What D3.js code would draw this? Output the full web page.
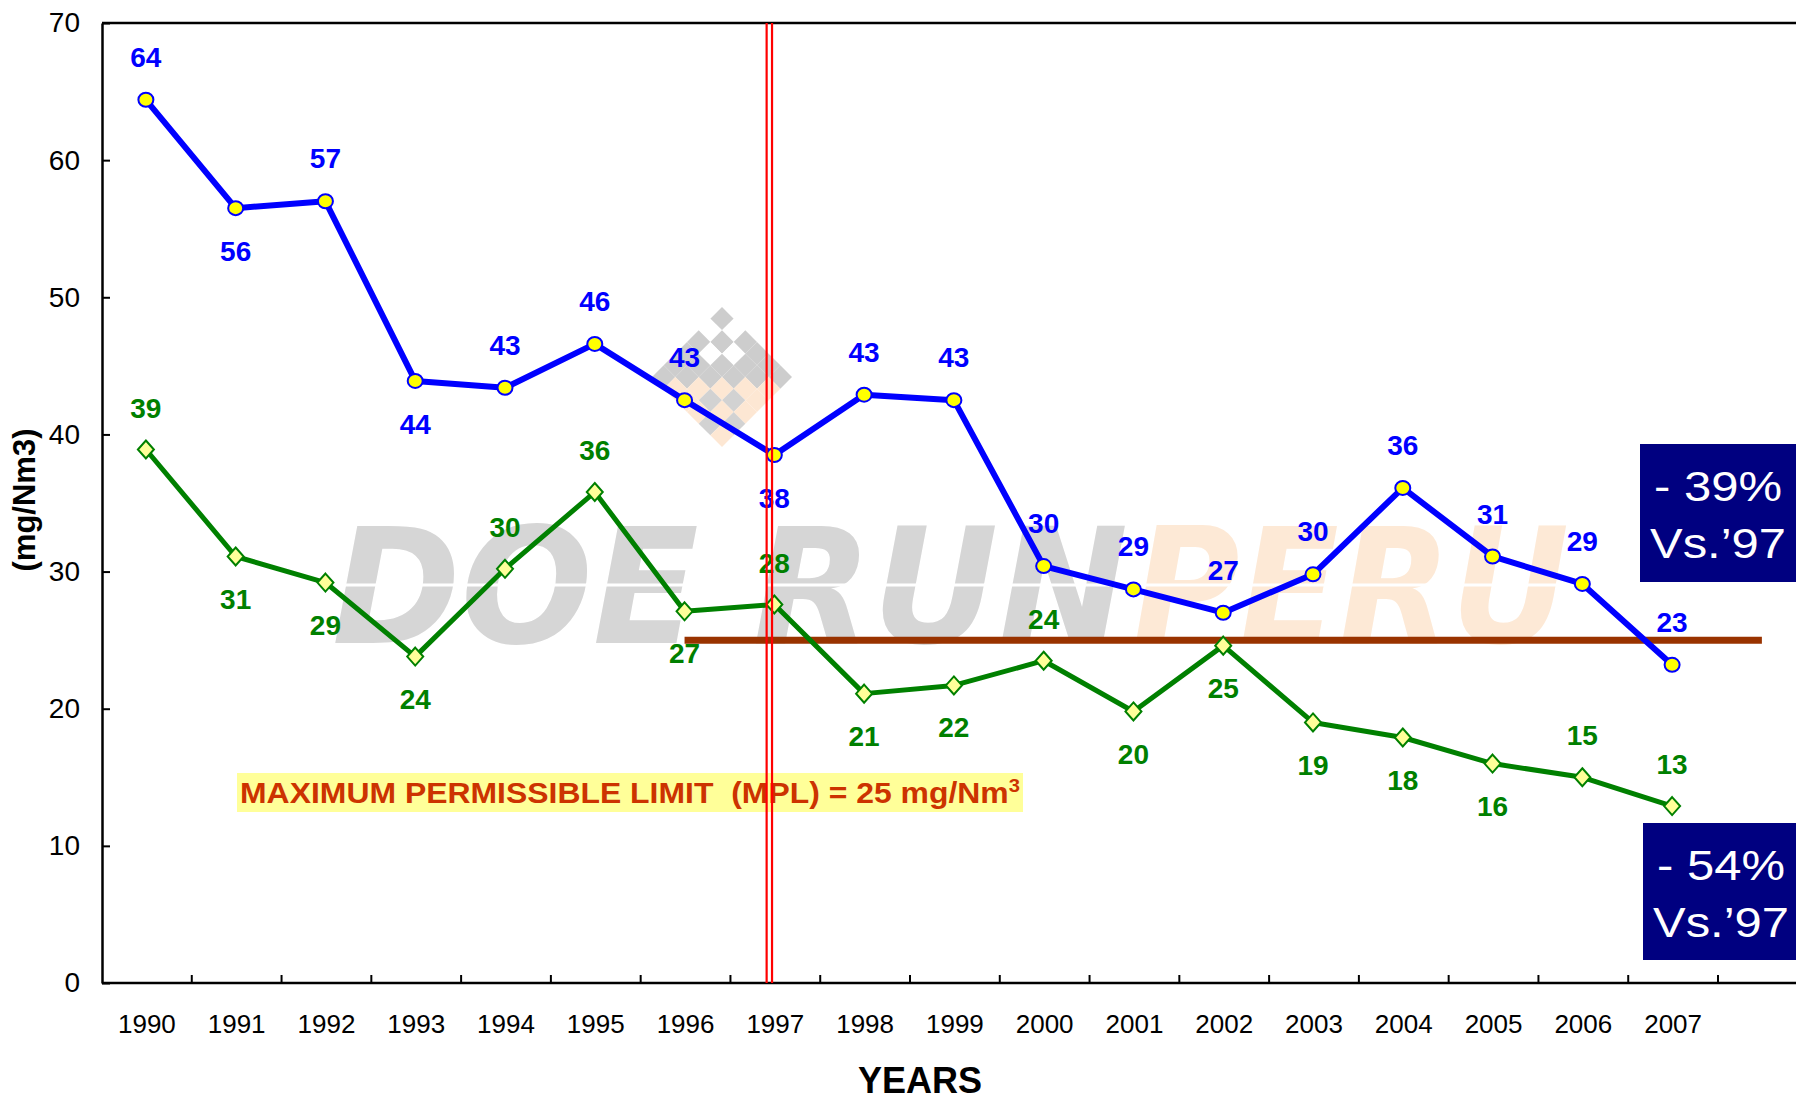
<!DOCTYPE html>
<html>
<head>
<meta charset="utf-8">
<script src="https://cdn.jsdelivr.net/npm/d3@7"></script>
<style>
  body { margin: 0; background: #fff; }
  svg { display: block; font-family: "Liberation Sans", Arial, sans-serif; }
</style>
</head>
<body>
<svg class="chart"></svg>
<script>
// chart data
var years = ["1990", "1991", "1992", "1993", "1994", "1995", "1996", "1997", "1998",
             "1999", "2000", "2001", "2002", "2003", "2004", "2005", "2006", "2007"];

// blue series (circles)
var blueValues = [64.4, 56.5, 57.0, 43.9, 43.4, 46.6, 42.5, 38.5, 42.9,
                  42.5, 30.4, 28.7, 27.0, 29.8, 36.1, 31.1, 29.1, 23.2];
var blueLabels = [64, 56, 57, 44, 43, 46, 43, 38, 43, 43, 30, 29, 27, 30, 36, 31, 29, 23];
// -1 = label above the point, 1 = below
var blueSide = [-1, 1, -1, 1, -1, -1, -1, 1, -1, -1, -1, -1, -1, -1, -1, -1, -1, -1];

// green series (diamonds)
var greenValues = [38.9, 31.1, 29.2, 23.8, 30.2, 35.8, 27.1, 27.6, 21.1,
                   21.7, 23.5, 19.8, 24.6, 19.0, 17.9, 16.0, 15.0, 12.9];
var greenLabels = [39, 31, 29, 24, 30, 36, 27, 28, 21, 22, 24, 20, 25, 19, 18, 16, 15, 13];
var greenSide = [-1, 1, 1, 1, -1, -1, 1, -1, 1, 1, -1, 1, 1, 1, 1, 1, -1, -1];

var yTicks = [0, 10, 20, 30, 40, 50, 60, 70];
var mplValue = 25;
var mplFrom = "1996";
var refYear = "1997";

//define SVG
var width = 1796, height = 1103;
var margin = { top: 23, right: 0, bottom: 120, left: 102 };
var svg = d3.select(".chart").attr("width", width).attr("height", height);
svg.append("rect").attr("width", width).attr("height", height).attr("fill", "#fff");

var x = d3.scaleBand()
    .domain(years)
    .range([margin.left, 1718]);

var y = d3.scaleLinear()
    .domain([0, 70])
    .range([height - margin.bottom, margin.top]);

function px(d) { return x(d) + x.bandwidth() / 2 - 1; }

// watermark (logo + text)
var wm = svg.append("g").attr("class", "watermark");
var logo = wm.append("g").attr("transform", "translate(722,307) rotate(45)");
var cell = 16.5;
var holes = ["0,1", "1,0", "1,2", "2,1"];
var greyInPeach = ["4,3", "3,4", "5,4", "4,5"];
for (var i = 0; i < 6; i++) {
    for (var j = 0; j < 6; j++) {
        var key = i + "," + j;
        var col = (i + j <= 5) ? "#cdcdcd" : "#fde7d3";
        if (holes.indexOf(key) >= 0) col = "#fff";
        if (greyInPeach.indexOf(key) >= 0) col = "#d2d2d2";
        logo.append("rect")
            .attr("x", j * cell).attr("y", i * cell)
            .attr("width", cell).attr("height", cell)
            .attr("fill", col);
    }
}
wm.append("text")
    .attr("x", 332).attr("y", 643)
    .attr("font-size", 160).attr("font-weight", "bold").attr("font-style", "italic")
    .attr("font-family", "DejaVu Sans, Liberation Sans, sans-serif")
    .attr("textLength", 796).attr("lengthAdjust", "spacingAndGlyphs")
    .attr("fill", "#d6d6d6")
    .text("DOE RUN");
wm.append("text")
    .attr("x", 1133).attr("y", 643)
    .attr("font-size", 160).attr("font-weight", "bold").attr("font-style", "italic")
    .attr("font-family", "DejaVu Sans, Liberation Sans, sans-serif")
    .attr("textLength", 436).attr("lengthAdjust", "spacingAndGlyphs")
    .attr("fill", "#fde9d6")
    .text("PERU");
wm.append("line")
    .attr("x1", 300).attr("x2", 1600).attr("y1", 585).attr("y2", 585)
    .attr("stroke", "#fff").attr("stroke-width", 3);

// frame: top border
svg.append("line")
    .attr("x1", margin.left).attr("x2", width)
    .attr("y1", y(70)).attr("y2", y(70))
    .attr("stroke", "#000").attr("stroke-width", 2.5);

// y axis
var yAxis = d3.axisLeft(y)
    .tickValues(yTicks)
    .tickSizeInner(-8)
    .tickSizeOuter(0)
    .tickPadding(22);
var gy = svg.append("g")
    .attr("transform", "translate(" + margin.left + ",0)")
    .call(yAxis);
gy.select(".domain").attr("stroke-width", 2.5);
gy.selectAll(".tick line").attr("stroke-width", 2);
gy.selectAll(".tick text")
    .attr("font-size", 28)
    .attr("font-family", "Liberation Sans, Arial, sans-serif")
    .attr("fill", "#000");

// x axis: labels at band centres, ticks on band edges
var xAxis = d3.axisBottom(x).tickSize(0).tickPadding(32);
var gx = svg.append("g")
    .attr("transform", "translate(0," + y(0) + ")")
    .call(xAxis);
gx.select(".domain").remove();
gx.selectAll(".tick text")
    .attr("font-size", 26)
    .attr("font-family", "Liberation Sans, Arial, sans-serif")
    .attr("fill", "#000");

svg.append("line")
    .attr("x1", margin.left).attr("x2", width)
    .attr("y1", y(0)).attr("y2", y(0))
    .attr("stroke", "#000").attr("stroke-width", 2.5);

svg.selectAll(".xtick")
    .data(years)
    .enter().append("line")
    .attr("class", "xtick")
    .attr("x1", function (d) { return x(d) + x.bandwidth(); })
    .attr("x2", function (d) { return x(d) + x.bandwidth(); })
    .attr("y1", y(0)).attr("y2", y(0) - 8)
    .attr("stroke", "#000").attr("stroke-width", 2);

// axis titles
svg.append("text")
    .attr("x", 920).attr("y", 1093)
    .attr("text-anchor", "middle")
    .attr("font-size", 36).attr("font-weight", "bold")
    .text("YEARS");

svg.append("text")
    .attr("transform", "translate(35,500) rotate(-90)")
    .attr("text-anchor", "middle")
    .attr("font-size", 31).attr("font-weight", "bold")
    .text("(mg/Nm3)");

// MPL line
svg.append("line")
    .attr("x1", px(mplFrom))
    .attr("x2", px(years[years.length - 1]) + x.step())
    .attr("y1", y(mplValue)).attr("y2", y(mplValue))
    .attr("stroke", "#993300").attr("stroke-width", 7);

// MPL note
svg.append("rect")
    .attr("x", 237).attr("y", 773).attr("width", 786).attr("height", 39)
    .attr("fill", "#ffff99");
var mpl = svg.append("text")
    .attr("x", 240).attr("y", 803)
    .attr("font-size", 30).attr("font-weight", "bold")
    .attr("font-family", "Liberation Sans Narrow, Arial Narrow, Liberation Sans, sans-serif")
    .attr("fill", "#cc3300")
    .attr("textLength", 780).attr("lengthAdjust", "spacingAndGlyphs")
    .attr("xml:space", "preserve");
mpl.append("tspan").text("MAXIMUM PERMISSIBLE LIMIT  (MPL) = 25 mg/Nm");
mpl.append("tspan").attr("font-size", 19).attr("dy", -11).text("3");

// lines
var seriesLine = d3.line()
    .x(function (d, i) { return px(years[i]); })
    .y(function (d) { return y(d); });

svg.append("path")
    .datum(greenValues)
    .attr("d", seriesLine)
    .attr("fill", "none")
    .attr("stroke", "#008000")
    .attr("stroke-width", 5)
    .attr("stroke-linejoin", "round");

svg.append("path")
    .datum(blueValues)
    .attr("d", seriesLine)
    .attr("fill", "none")
    .attr("stroke", "#0000ff")
    .attr("stroke-width", 6)
    .attr("stroke-linejoin", "round");

// markers
svg.selectAll(".diamond")
    .data(greenValues)
    .enter().append("path")
    .attr("class", "diamond")
    .attr("d", "M0,-9L8,0L0,9L-8,0Z")
    .attr("transform", function (d, i) { return "translate(" + px(years[i]) + "," + y(d) + ")"; })
    .attr("fill", "#ffff99")
    .attr("stroke", "#008000")
    .attr("stroke-width", 2);

svg.selectAll(".dot")
    .data(blueValues)
    .enter().append("ellipse")
    .attr("class", "dot")
    .attr("cx", function (d, i) { return px(years[i]); })
    .attr("cy", function (d) { return y(d); })
    .attr("rx", 7.5).attr("ry", 7)
    .attr("fill", "#ffff00")
    .attr("stroke", "#0000ff")
    .attr("stroke-width", 2);

// value labels
svg.selectAll(".glabel")
    .data(greenValues)
    .enter().append("text")
    .attr("class", "glabel")
    .attr("x", function (d, i) { return px(years[i]); })
    .attr("y", function (d, i) { return y(d) + greenSide[i] * 42; })
    .attr("dy", "0.36em")
    .attr("text-anchor", "middle")
    .attr("font-size", 28).attr("font-weight", "bold")
    .attr("fill", "#008000")
    .text(function (d, i) { return greenLabels[i]; });

svg.selectAll(".blabel")
    .data(blueValues)
    .enter().append("text")
    .attr("class", "blabel")
    .attr("x", function (d, i) { return px(years[i]); })
    .attr("y", function (d, i) { return y(d) + blueSide[i] * 43; })
    .attr("dy", "0.36em")
    .attr("text-anchor", "middle")
    .attr("font-size", 28).attr("font-weight", "bold")
    .attr("fill", "#0000ff")
    .text(function (d, i) { return blueLabels[i]; });

// 1997 reference line (double red)
[-2.7, 2.7].forEach(function (off) {
    svg.append("line")
        .attr("x1", px(refYear) - 5 + off).attr("x2", px(refYear) - 5 + off)
        .attr("y1", y(70)).attr("y2", y(0))
        .attr("stroke", "#ff0000").attr("stroke-width", 2.2);
});

// percentage boxes
var boxes = [
    { x: 1640, y: 444, h: 138, lines: ["- 39%", "Vs.\u201997"] },
    { x: 1643, y: 823, h: 137, lines: ["- 54%", "Vs.\u201997"] }
];
boxes.forEach(function (b) {
    svg.append("rect")
        .attr("x", b.x).attr("y", b.y)
        .attr("width", width - b.x).attr("height", b.h)
        .attr("fill", "#000080");
    b.lines.forEach(function (t, k) {
        svg.append("text")
            .attr("x", b.x + 78).attr("y", b.y + 57 + k * 57)
            .attr("text-anchor", "middle")
            .attr("font-size", 42)
            .attr("fill", "#fff")
            .attr("textLength", k == 0 ? 128 : 136)
            .attr("lengthAdjust", "spacingAndGlyphs")
            .text(t);
    });
});
</script>
</body>
</html>
